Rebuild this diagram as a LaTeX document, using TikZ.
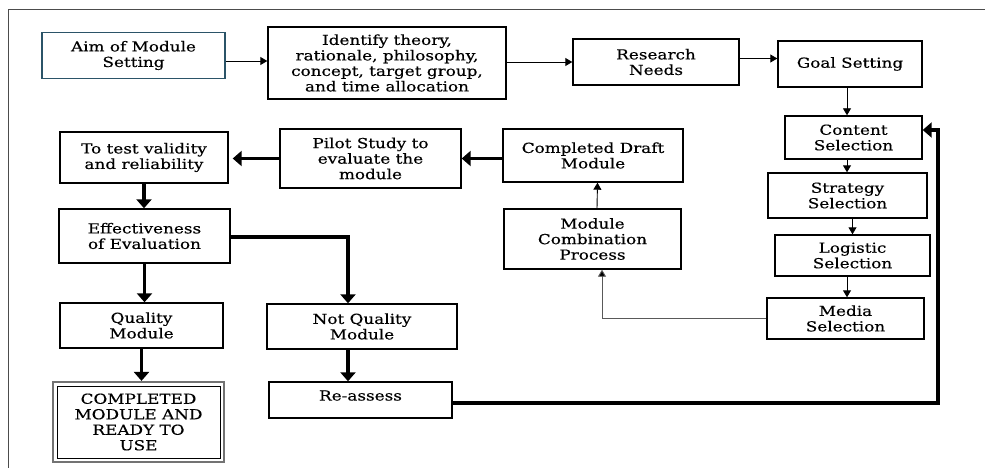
\documentclass[tikz,border=0pt]{standalone}
\usepackage{fontspec}
\setmainfont{DejaVu Serif}[FakeStretch=1.22,FakeBold=0.35]
\usetikzlibrary{arrows.meta}
\definecolor{teal1}{HTML}{2B5468}
\begin{document}
\begin{tikzpicture}[x=1pt,y=-1pt,
  box/.style={draw, line width=1.4pt, align=center, inner sep=0pt,
    font=\fontsize{13.8}{15.5}\selectfont},
  thinarr/.style={line width=0.9pt, -{Triangle[length=7pt,width=8pt]}},
  thickarr/.style={line width=3.8pt, -{Triangle[length=9pt,width=15pt]}},
  greyarr/.style={line width=0.9pt, draw=black!65, -{Triangle[length=7pt,width=8pt,fill=black]}}]
\useasboundingbox (0,0) rectangle (985,468);
\draw[line width=1pt, black!70] (8,468) -- (8,10) -- (985,10);

\node[box, draw=teal1, minimum width=183pt, minimum height=46pt] (aim) at (133.5,55.5) {Aim of Module\\Setting};
\node[box, minimum width=238pt, minimum height=72pt] (ident) at (387,63) {Identify theory,\\rationale, philosophy,\\concept, target group,\\and time allocation};
\node[box, minimum width=166pt, minimum height=46pt] (res) at (656,62) {Research\\Needs};
\node[box, minimum width=144pt, minimum height=46pt] (goal) at (850,64) {Goal Setting};
\node[box, minimum width=137pt, minimum height=43pt] (content) at (853.5,137.5) {Content\\Selection};
\node[box, minimum width=159pt, minimum height=45pt] (strat) at (847.5,195.5) {Strategy\\Selection};
\node[box, minimum width=155pt, minimum height=41pt] (logi) at (852.5,255.5) {Logistic\\Selection};
\node[box, minimum width=157pt, minimum height=41pt] (media) at (845.5,318.5) {Media\\Selection};
\node[box, minimum width=177pt, minimum height=60pt] (mcp) at (592.5,239) {Module\\Combination\\Process};
\node[box, minimum width=180pt, minimum height=53pt] (draft) at (593,155.5) {Completed Draft\\Module};
\node[box, minimum width=181pt, minimum height=59pt] (pilot) at (370.5,158.5) {Pilot Study to\\evaluate the\\module};
\node[box, minimum width=168pt, minimum height=51pt] (test) at (144,157.5) {To test validity\\and reliability};
\node[box, minimum width=171pt, minimum height=54pt] (eff) at (144.5,236) {Effectiveness\\of Evaluation};
\node[box, minimum width=163pt, minimum height=45pt] (qual) at (141.5,325.5) {Quality\\Module};
\node[box, minimum width=190pt, minimum height=45pt] (notq) at (362,326.5) {Not Quality\\Module};
\node[box, draw=black!55, line width=2.2pt, minimum width=171pt, minimum height=80pt] (comp) at (138.5,422) {};
\node[box, line width=1pt, minimum width=163pt, minimum height=72pt] (compin) at (138.5,422) {COMPLETED\\MODULE AND\\READY TO\\USE};
\node[box, minimum width=183pt, minimum height=36pt, text depth=9pt] (reas) at (360.5,400) {Re-assess};

% thin connectors
\draw[thinarr] ([yshift=-5.5pt]aim.east) -- ([yshift=-5.5pt]aim.east -| ident.west);
\draw[thinarr] (res.west -| ident.east) -- (res.west);
\draw[thinarr] ([yshift=3.5pt]res.east) -- ([yshift=3.5pt]res.east -| goal.west);
\draw[thinarr] ([xshift=-3pt]goal.south) -- ([xshift=-3pt]goal.south |- content.north);
\draw[thinarr] ([xshift=-6.5pt]content.south) -- ([xshift=-6.5pt]content.south |- strat.north);
\draw[thinarr] (logi.north |- strat.south) -- (logi.north);
\draw[thinarr] ([xshift=1.5pt]media.north |- logi.south) -- ([xshift=1.5pt]media.north);
\draw[greyarr] (media.west) -| ([xshift=9.5pt]mcp.south);
\draw[thinarr] ([xshift=4.5pt]mcp.north) -- ([xshift=4.5pt]draft.south);

% thick connectors
\draw[thickarr] (pilot.east -| draft.west) -- (pilot.east);
\draw[thickarr, shorten >=4pt] (pilot.west) -- (pilot.west -| test.east);
\draw[thickarr] (test.south) -- (test.south |- eff.north);
\draw[thickarr] (eff.south) -- (eff.south |- qual.north);
\draw[thickarr] (qual.south) -- (qual.south |- comp.north);
\draw[thickarr] ([yshift=-1pt]eff.east) -| ([xshift=-14pt]notq.north);
\draw[thickarr] ([xshift=-14pt]notq.south) -- ([xshift=-14pt]notq.south |- reas.north);
\draw[thickarr] ([yshift=-3pt]reas.east) -| ([xshift=15pt,yshift=7.5pt]content.east) -- ([yshift=7.5pt]content.east);
\end{tikzpicture}
\end{document}
